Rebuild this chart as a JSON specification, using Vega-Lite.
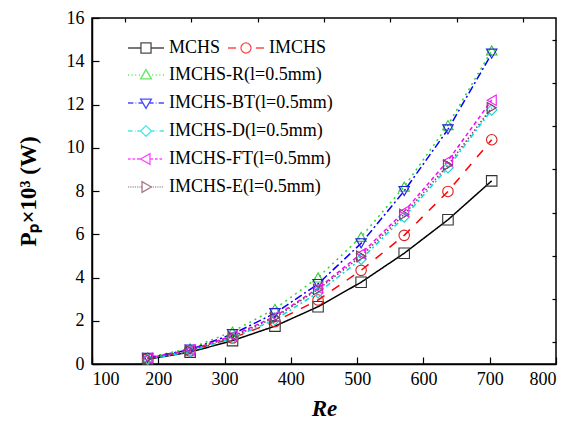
{
  "$schema": "https://vega.github.io/schema/vega-lite/v6.json",
  "width": 464,
  "height": 346,
  "autosize": {"type": "none"},
  "padding": {"left": 92, "top": 18, "right": 20, "bottom": 63},
  "background": "white",
  "config": {
    "view": {"stroke": "black", "strokeWidth": 1.5},
    "font": "Times New Roman, Liberation Serif, serif",
    "axis": {
      "labelFont": "Times New Roman, Liberation Serif, serif",
      "labelFontSize": 18,
      "labelColor": "black",
      "domainColor": "black",
      "domainWidth": 1.5,
      "tickColor": "black",
      "tickWidth": 1.2,
      "grid": false,
      "titleColor": "black",
      "titleFont": "Times New Roman, Liberation Serif, serif"
    },
    "legend": {
      "labelFont": "Times New Roman, Liberation Serif, serif",
      "labelFontSize": 18,
      "labelColor": "black",
      "padding": 0,
      "symbolStrokeWidth": 1.3,
      "symbolSize": 1296,
      "labelOffset": 4,
      "rowPadding": -12,
      "columnPadding": 4,
      "labelLimit": 400
    }
  },
  "data": {
    "values": [
      {"series": "MCHS", "Re": 184, "P": 0.22},
      {"series": "MCHS", "Re": 248, "P": 0.55},
      {"series": "MCHS", "Re": 312, "P": 1.08},
      {"series": "MCHS", "Re": 376, "P": 1.75},
      {"series": "MCHS", "Re": 441, "P": 2.65},
      {"series": "MCHS", "Re": 506, "P": 3.78},
      {"series": "MCHS", "Re": 571, "P": 5.12},
      {"series": "MCHS", "Re": 637, "P": 6.67},
      {"series": "MCHS", "Re": 703, "P": 8.47},
      {"series": "IMCHS", "Re": 184, "P": 0.25},
      {"series": "IMCHS", "Re": 248, "P": 0.6},
      {"series": "IMCHS", "Re": 312, "P": 1.2},
      {"series": "IMCHS", "Re": 376, "P": 1.96},
      {"series": "IMCHS", "Re": 441, "P": 2.96},
      {"series": "IMCHS", "Re": 506, "P": 4.33},
      {"series": "IMCHS", "Re": 571, "P": 5.95},
      {"series": "IMCHS", "Re": 637, "P": 7.98},
      {"series": "IMCHS", "Re": 703, "P": 10.37},
      {"series": "IMCHS-R(l=0.5mm)", "Re": 184, "P": 0.3},
      {"series": "IMCHS-R(l=0.5mm)", "Re": 248, "P": 0.72},
      {"series": "IMCHS-R(l=0.5mm)", "Re": 312, "P": 1.5},
      {"series": "IMCHS-R(l=0.5mm)", "Re": 376, "P": 2.55},
      {"series": "IMCHS-R(l=0.5mm)", "Re": 441, "P": 4.0},
      {"series": "IMCHS-R(l=0.5mm)", "Re": 506, "P": 5.88},
      {"series": "IMCHS-R(l=0.5mm)", "Re": 571, "P": 8.2},
      {"series": "IMCHS-R(l=0.5mm)", "Re": 637, "P": 11.05},
      {"series": "IMCHS-R(l=0.5mm)", "Re": 703, "P": 14.5},
      {"series": "IMCHS-BT(l=0.5mm)", "Re": 184, "P": 0.28},
      {"series": "IMCHS-BT(l=0.5mm)", "Re": 248, "P": 0.67},
      {"series": "IMCHS-BT(l=0.5mm)", "Re": 312, "P": 1.38},
      {"series": "IMCHS-BT(l=0.5mm)", "Re": 376, "P": 2.35},
      {"series": "IMCHS-BT(l=0.5mm)", "Re": 441, "P": 3.7},
      {"series": "IMCHS-BT(l=0.5mm)", "Re": 506, "P": 5.58},
      {"series": "IMCHS-BT(l=0.5mm)", "Re": 571, "P": 8.0},
      {"series": "IMCHS-BT(l=0.5mm)", "Re": 637, "P": 10.85},
      {"series": "IMCHS-BT(l=0.5mm)", "Re": 703, "P": 14.35},
      {"series": "IMCHS-D(l=0.5mm)", "Re": 184, "P": 0.22},
      {"series": "IMCHS-D(l=0.5mm)", "Re": 248, "P": 0.58},
      {"series": "IMCHS-D(l=0.5mm)", "Re": 312, "P": 1.2},
      {"series": "IMCHS-D(l=0.5mm)", "Re": 376, "P": 2.05},
      {"series": "IMCHS-D(l=0.5mm)", "Re": 441, "P": 3.3},
      {"series": "IMCHS-D(l=0.5mm)", "Re": 506, "P": 4.85},
      {"series": "IMCHS-D(l=0.5mm)", "Re": 571, "P": 6.8},
      {"series": "IMCHS-D(l=0.5mm)", "Re": 637, "P": 9.08},
      {"series": "IMCHS-D(l=0.5mm)", "Re": 703, "P": 11.75},
      {"series": "IMCHS-FT(l=0.5mm)", "Re": 184, "P": 0.27},
      {"series": "IMCHS-FT(l=0.5mm)", "Re": 248, "P": 0.65},
      {"series": "IMCHS-FT(l=0.5mm)", "Re": 312, "P": 1.3},
      {"series": "IMCHS-FT(l=0.5mm)", "Re": 376, "P": 2.2},
      {"series": "IMCHS-FT(l=0.5mm)", "Re": 441, "P": 3.5},
      {"series": "IMCHS-FT(l=0.5mm)", "Re": 506, "P": 5.1},
      {"series": "IMCHS-FT(l=0.5mm)", "Re": 571, "P": 7.05},
      {"series": "IMCHS-FT(l=0.5mm)", "Re": 637, "P": 9.4},
      {"series": "IMCHS-FT(l=0.5mm)", "Re": 703, "P": 12.2},
      {"series": "IMCHS-E(l=0.5mm)", "Re": 184, "P": 0.26},
      {"series": "IMCHS-E(l=0.5mm)", "Re": 248, "P": 0.63},
      {"series": "IMCHS-E(l=0.5mm)", "Re": 312, "P": 1.25},
      {"series": "IMCHS-E(l=0.5mm)", "Re": 376, "P": 2.15},
      {"series": "IMCHS-E(l=0.5mm)", "Re": 441, "P": 3.45},
      {"series": "IMCHS-E(l=0.5mm)", "Re": 506, "P": 4.98},
      {"series": "IMCHS-E(l=0.5mm)", "Re": 571, "P": 6.92},
      {"series": "IMCHS-E(l=0.5mm)", "Re": 637, "P": 9.2},
      {"series": "IMCHS-E(l=0.5mm)", "Re": 703, "P": 11.85}
    ]
  },
  "layer": [
    {
      "mark": {"type": "line", "strokeWidth": 1.5},
      "encoding": {
        "x": {
          "field": "Re", "type": "quantitative",
          "scale": {"domain": [100, 800]},
          "axis": {
            "values": [100, 200, 300, 400, 500, 600, 700, 800],
            "tickSize": -7,
            "labelPadding": 13,
            "title": "Re",
            "titleFontSize": 23,
            "titleFontWeight": "bold",
            "titleFontStyle": "italic",
            "titlePadding": 9
          }
        },
        "y": {
          "field": "P", "type": "quantitative",
          "scale": {"domain": [0, 16]},
          "axis": {
            "values": [0, 2, 4, 6, 8, 10, 12, 14, 16],
            "tickSize": -7,
            "labelPadding": 15,
            "title": "Pₚ×10³ (W)",
            "titleFontSize": 23,
            "titleFontWeight": "bold",
            "titlePadding": 26
          }
        },
        "color": {
          "field": "series", "type": "nominal", "legend": null,
          "scale": {
            "domain": ["MCHS", "IMCHS", "IMCHS-R(l=0.5mm)", "IMCHS-BT(l=0.5mm)", "IMCHS-D(l=0.5mm)", "IMCHS-FT(l=0.5mm)", "IMCHS-E(l=0.5mm)"],
            "range": ["#000000", "#ff0000", "#22dd22", "#0000ff", "#00dede", "#ff00ff", "#7f3f5f"]
          }
        },
        "strokeDash": {
          "field": "series", "type": "nominal", "legend": null,
          "scale": {
            "domain": ["MCHS", "IMCHS", "IMCHS-R(l=0.5mm)", "IMCHS-BT(l=0.5mm)", "IMCHS-D(l=0.5mm)", "IMCHS-FT(l=0.5mm)", "IMCHS-E(l=0.5mm)"],
            "range": [[1, 0], [9, 9], [2, 4], [8, 3, 2, 3], [5, 3, 2, 3], [4, 3], [1.5, 2]]
          }
        }
      }
    },
    {
      "mark": {"type": "point", "filled": false, "size": 110, "strokeWidth": 1.1, "opacity": 1},
      "encoding": {
        "x": {
          "field": "Re", "type": "quantitative",
          "scale": {"domain": [100, 800]},
          "axis": {"values": [150, 250, 350, 450, 550, 650, 750], "tickSize": -4, "labels": false, "domain": false, "title": null}
        },
        "y": {
          "field": "P", "type": "quantitative",
          "scale": {"domain": [0, 16]},
          "axis": {"values": [1, 3, 5, 7, 9, 11, 13, 15], "tickSize": -4, "labels": false, "domain": false, "title": null}
        },
        "color": {
          "field": "series", "type": "nominal", "legend": null,
          "scale": {
            "domain": ["MCHS", "IMCHS", "IMCHS-R(l=0.5mm)", "IMCHS-BT(l=0.5mm)", "IMCHS-D(l=0.5mm)", "IMCHS-FT(l=0.5mm)", "IMCHS-E(l=0.5mm)"],
            "range": ["#333333", "#e02020", "#33cc33", "#2020dd", "#20d0d0", "#ee22ee", "#7f3f5f"]
          }
        },
        "shape": {
          "field": "series", "type": "nominal", "legend": null,
          "scale": {
            "domain": ["MCHS", "IMCHS", "IMCHS-R(l=0.5mm)", "IMCHS-BT(l=0.5mm)", "IMCHS-D(l=0.5mm)", "IMCHS-FT(l=0.5mm)", "IMCHS-E(l=0.5mm)"],
            "range": ["square", "circle", "triangle-up", "triangle-down", "diamond", "triangle-left", "triangle-right"]
          }
        }
      }
    },
    {
      "transform": [{"filter": "datum.Re < 0"}],
      "mark": {"type": "point", "filled": false},
      "encoding": {
        "x": {"field": "Re", "type": "quantitative", "axis": null},
        "y": {"field": "P", "type": "quantitative", "axis": null},
        "color": {
          "field": "series", "type": "nominal",
          "scale": {"domain": ["MCHS", "IMCHS"], "range": ["#000000", "#ff0000"]},
          "legend": {"orient": "none", "legendX": 35, "legendY": 11, "direction": "horizontal", "title": null}
        },
        "shape": {
          "field": "series", "type": "nominal",
          "scale": {
            "domain": ["MCHS", "IMCHS"],
            "range": [
              "M-1,0H-0.28M0.28,0H1M-0.28,-0.28H0.28V0.28H-0.28Z",
              "M-1,0H-0.55M0.55,0H1M0.28,0A0.28,0.28 0 1,1 -0.28,0A0.28,0.28 0 1,1 0.28,0Z"
            ]
          },
          "legend": {"orient": "none", "legendX": 35, "legendY": 11, "direction": "horizontal", "title": null}
        }
      }
    },
    {
      "transform": [{"filter": "datum.Re < 0"}],
      "mark": {"type": "point", "filled": false},
      "encoding": {
        "x": {"field": "Re", "type": "quantitative", "axis": null},
        "y": {"field": "P", "type": "quantitative", "axis": null},
        "color": {
          "field": "series", "type": "nominal",
          "scale": {
            "domain": ["IMCHS-R(l=0.5mm)", "IMCHS-BT(l=0.5mm)", "IMCHS-D(l=0.5mm)", "IMCHS-FT(l=0.5mm)", "IMCHS-E(l=0.5mm)"],
            "range": ["#22dd22", "#0000ff", "#00dede", "#ff00ff", "#7f3f5f"]
          },
          "legend": {"orient": "none", "legendX": 35, "legendY": 38, "direction": "vertical", "title": null}
        },
        "shape": {
          "field": "series", "type": "nominal",
          "scale": {
            "domain": ["IMCHS-R(l=0.5mm)", "IMCHS-BT(l=0.5mm)", "IMCHS-D(l=0.5mm)", "IMCHS-FT(l=0.5mm)", "IMCHS-E(l=0.5mm)"],
            "range": [
              "M-1,0H-0.94M-0.8,0H-0.74M-0.6,0H-0.54M-0.4,0H-0.34M0.34,0H0.4M0.54,0H0.6M0.74,0H0.8M0.94,0H1M0,-0.3L0.3,0.22L-0.3,0.22Z",
              "M-1,0H-0.7M-0.58,0H-0.54M-0.42,0H-0.17M0.17,0H0.42M0.54,0H0.58M0.7,0H1M0,0.3L0.3,-0.22L-0.3,-0.22Z",
              "M-1,0H-0.75M-0.62,0H-0.58M-0.48,0H-0.3M0.3,0H0.48M0.58,0H0.62M0.75,0H1M0,-0.3L0.3,0L0,0.3L-0.3,0Z",
              "M-1,0H-0.85M-0.75,0H-0.6M-0.5,0H-0.3M0.22,0H0.4M0.5,0H0.65M0.75,0H0.9M-0.3,0L0.22,-0.3L0.22,0.3Z",
              "M-1,0H-0.96M-0.9,0H-0.86M-0.8,0H-0.76M-0.7,0H-0.66M-0.6,0H-0.56M-0.5,0H-0.46M-0.4,0H-0.36M-0.3,0H-0.22M0.3,0H0.34M0.4,0H0.44M0.5,0H0.54M0.6,0H0.64M0.7,0H0.74M0.8,0H0.84M0.9,0H0.94M0.3,0L-0.22,-0.3L-0.22,0.3Z"
            ]
          },
          "legend": {"orient": "none", "legendX": 35, "legendY": 38, "direction": "vertical", "title": null}
        }
      }
    }
  ],
  "resolve": {
    "scale": {"color": "independent", "shape": "independent", "strokeDash": "independent"},
    "axis": {"x": "independent", "y": "independent"}
  }
}
